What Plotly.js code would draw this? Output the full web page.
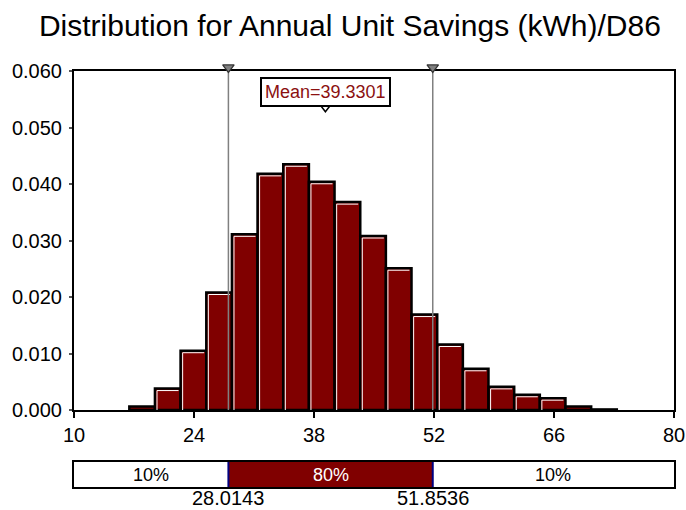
<!DOCTYPE html>
<html>
<head>
<meta charset="utf-8">
<script src="https://cdn.plot.ly/plotly-3.0.1.min.js"></script>
<style>
html,body{margin:0;padding:0;background:#fff;}
#chart{width:686px;height:510px;}
</style>
</head>
<body>
<div id="chart"></div>
<script>
// ---- data ----
const chartTitle = 'Distribution for Annual Unit Savings (kWh)/D86';
const binCenters = [17.95, 20.94, 23.93, 26.93, 29.92, 32.91, 35.91, 38.90, 41.90, 44.89, 47.88, 50.88, 53.87, 56.86, 59.86, 62.85, 65.84, 68.84, 71.83];
const density    = [0.0006, 0.0038, 0.0105, 0.0208, 0.0311, 0.0418, 0.0435, 0.0404, 0.0368, 0.0308, 0.0251, 0.0169, 0.0116, 0.0073, 0.0041, 0.0027, 0.0021, 0.0006, 0.0001];
const binWidth = 2.993;
const xTickVals = [10, 24, 38, 52, 66, 80];
const yTickVals = [0, 0.01, 0.02, 0.03, 0.04, 0.05, 0.06];
const meanVal = 39.3301;
const p10 = 28.0143;
const p90 = 51.8536;
const segStarts = [10, p10, p90];
const segEnds   = [p10, p90, 80];
const segLabels = ['10%', '80%', '10%'];

// ---- styling ----
const DARK_RED = '#800000';
const FONT = '"Liberation Sans", Arial, sans-serif';
const xRange = [10, 80];
const yRange = [0, 0.06];
// layout geometry (pixels)
const H = 510, T = 60, B = 23;
const plotH = H - T - B;
const mainTopPx = 71, mainBotPx = 410, stripTopPx = 462;
const mainDomain = [(H - B - mainBotPx) / plotH, (H - B - mainTopPx) / plotH];
const markDomain = [mainDomain[0], 1];
const yMarkRange = [0, yRange[1] * (mainBotPx - T) / (mainBotPx - mainTopPx)];
const insetX = 0.24, insetY = 0.00036; // white bevel inset (data units)

// white highlight along top and left edge of each bar
const hx = [], hy = [];
binCenters.forEach((c, i) => {
  const h = density[i];
  if (h < 3 * insetY) return;
  const l = c - binWidth / 2 + insetX, r = c + binWidth / 2 - insetX;
  hx.push(l, l, r, null);
  hy.push(0, h - insetY, h - insetY, null);
});

const traces = [
  {
    type: 'bar', x: binCenters, y: density, width: binWidth,
    marker: { color: DARK_RED, line: { color: '#000', width: 2.5 } },
    xaxis: 'x', yaxis: 'y', hoverinfo: 'skip'
  },
  {
    type: 'scatter', mode: 'lines', x: hx, y: hy,
    line: { color: '#fff', width: 1 }, xaxis: 'x', yaxis: 'y', hoverinfo: 'skip'
  },
  {
    type: 'scatter', mode: 'lines',
    x: [p10, p10, null, p90, p90],
    y: [yRange[0], yRange[1], null, yRange[0], yRange[1]],
    line: { color: '#808080', width: 1.5 }, xaxis: 'x', yaxis: 'y', hoverinfo: 'skip'
  },
  {
    type: 'scatter', mode: 'markers', x: [p10, p90],
    y: [yRange[1] * 1.0105, yRange[1] * 1.0105],
    marker: { symbol: 'triangle-down', size: 10, color: '#808080', line: { color: '#333', width: 1.2 } },
    cliponaxis: false, xaxis: 'x', yaxis: 'y3', hoverinfo: 'skip'
  },
  {
    type: 'scatter', mode: 'markers', x: [meanVal], y: [yRange[1] * 0.8915],
    marker: { symbol: 'triangle-down', size: 8, color: '#fff', line: { color: '#000', width: 1.5 } },
    cliponaxis: false, xaxis: 'x', yaxis: 'y', hoverinfo: 'skip'
  },
  {
    type: 'bar', orientation: 'h', y: [0, 0, 0], base: segStarts,
    x: segEnds.map((e, i) => e - segStarts[i]), width: 1,
    marker: { color: ['#fff', DARK_RED, '#fff'], line: { width: 0 } },
    textposition: 'none',
    xaxis: 'x2', yaxis: 'y2', hoverinfo: 'skip'
  },
  {
    type: 'scatter', mode: 'lines',
    x: [p10, p10, null, p90, p90], y: [-0.5, 0.5, null, -0.5, 0.5],
    line: { color: '#000080', width: 2 }, xaxis: 'x2', yaxis: 'y2', hoverinfo: 'skip'
  }
];

const segAnnotations = segLabels.map((t, i) => ({
  x: (segStarts[i] + segEnds[i]) / 2, y: 0, xref: 'x2', yref: 'y2',
  text: t, showarrow: false,
  font: { family: FONT, size: 18, color: i === 1 ? '#fff' : '#000' }
}));

const layout = {
  width: 686, height: H,
  margin: { l: 74, r: 12, t: T, b: B, pad: 0 },
  paper_bgcolor: '#fff', plot_bgcolor: 'rgba(0,0,0,0)',
  showlegend: false, hovermode: false, barmode: 'overlay',
  font: { family: FONT, color: '#000' },
  title: {
    text: chartTitle, font: { family: FONT, size: 30, color: '#000' },
    xref: 'container', x: 0.51, xanchor: 'center',
    yref: 'container', y: 0.95, yanchor: 'middle'
  },
  xaxis: {
    range: xRange, anchor: 'y', tickmode: 'array', tickvals: xTickVals,
    ticks: 'outside', ticklen: 6, tickwidth: 2, tickcolor: '#000',
    showline: true, linecolor: '#000', linewidth: 2, mirror: true,
    showgrid: false, zeroline: false,
    tickfont: { family: FONT, size: 20, color: '#000' }
  },
  yaxis: {
    range: yRange, domain: mainDomain, anchor: 'x', tickmode: 'array', tickvals: yTickVals,
    tickformat: '.3f',
    ticks: 'outside', ticklen: 3, tickwidth: 2, tickcolor: '#555',
    ticklabelstandoff: 3,
    showline: true, linecolor: '#000', linewidth: 2, mirror: true,
    showgrid: false, zeroline: false,
    tickfont: { family: FONT, size: 20, color: '#000' }
  },
  yaxis3: {
    range: yMarkRange, domain: markDomain, anchor: 'x',
    visible: false, showgrid: false, zeroline: false
  },
  xaxis2: {
    range: xRange, anchor: 'y2', showticklabels: false, ticks: '',
    showline: true, linecolor: '#000', linewidth: 2, mirror: true,
    showgrid: false, zeroline: false
  },
  yaxis2: {
    range: [-0.5, 0.5], domain: [0, (H - B - stripTopPx) / plotH], anchor: 'x2',
    showticklabels: false, ticks: '',
    showline: true, linecolor: '#000', linewidth: 2, mirror: true,
    showgrid: false, zeroline: false
  },
  annotations: [
    {
      x: meanVal, y: yRange[1] * 0.9367, xref: 'x', yref: 'y',
      text: 'Mean=' + meanVal, showarrow: false,
      font: { family: FONT, size: 18, color: '#8B1010' },
      bgcolor: '#fff', bordercolor: '#000', borderwidth: 2, borderpad: 3
    },
    {
      x: p10, y: 0, xref: 'x2', yref: 'paper', yanchor: 'top', yshift: 2,
      text: String(p10), showarrow: false,
      font: { family: FONT, size: 20, color: '#000' }
    },
    {
      x: p90, y: 0, xref: 'x2', yref: 'paper', yanchor: 'top', yshift: 2,
      text: String(p90), showarrow: false,
      font: { family: FONT, size: 20, color: '#000' }
    }
  ].concat(segAnnotations)
};

Plotly.newPlot('chart', traces, layout, { staticPlot: true, displayModeBar: false });
</script>
</body>
</html>
